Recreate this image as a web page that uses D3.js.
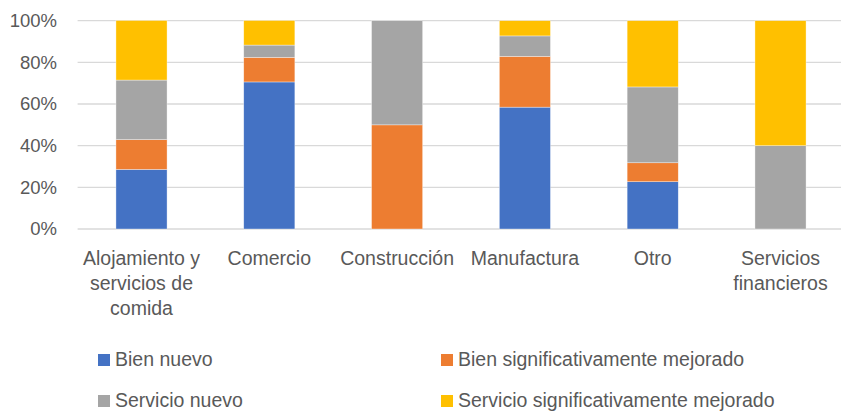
<!DOCTYPE html>
<html>
<head>
<meta charset="utf-8">
<script src="https://cdn.jsdelivr.net/npm/d3@7"></script>
<style>
  html, body { margin: 0; padding: 0; background: #fff; }
  svg { display: block; }
  text { font-family: "Liberation Sans", Arial, sans-serif; fill: #595959; }
</style>
</head>
<body>
<svg id="chart" width="841" height="411"></svg>
<script>
// ---- data ----
const categories = [
  "Alojamiento y servicios de comida",
  "Comercio",
  "Construcción",
  "Manufactura",
  "Otro",
  "Servicios financieros"
];
const categoryLines = [
  ["Alojamiento y", "servicios de", "comida"],
  ["Comercio"],
  ["Construcción"],
  ["Manufactura"],
  ["Otro"],
  ["Servicios", "financieros"]
];
const seriesNames = [
  "Bien nuevo",
  "Bien significativamente mejorado",
  "Servicio nuevo",
  "Servicio significativamente mejorado"
];
const bienNuevo          = [0.286, 0.706, 0.000, 0.585, 0.227, 0.000];
const bienMejorado       = [0.143, 0.118, 0.500, 0.244, 0.091, 0.000];
const servicioNuevo      = [0.286, 0.059, 0.500, 0.098, 0.364, 0.400];
const servicioMejorado   = [0.286, 0.118, 0.000, 0.073, 0.318, 0.600];
const yTicks = [0, 0.2, 0.4, 0.6, 0.8, 1.0];
const colors = ["#4472C4", "#ED7D31", "#A5A5A5", "#FFC000"];

// ---- build ----
const seriesValues = [bienNuevo, bienMejorado, servicioNuevo, servicioMejorado];
const rows = categories.map((c, i) => {
  const r = { category: c };
  seriesNames.forEach((s, k) => { r[s] = seriesValues[k][i]; });
  return r;
});

const svg = d3.select("#chart");
svg.append("rect").attr("width", 841).attr("height", 411).attr("fill", "#fff");

const x = d3.scaleBand()
  .domain(categories)
  .range([77.6, 844.4])
  .paddingInner(0.6)
  .paddingOuter(0.3);

const y = d3.scaleLinear().domain([0, 1]).range([229, 20.7]);

const color = d3.scaleOrdinal().domain(seriesNames).range(colors);

// gridlines
svg.append("g")
  .selectAll("line")
  .data(yTicks)
  .join("line")
  .attr("x1", 77.6)
  .attr("x2", 841)
  .attr("y1", d => y(d))
  .attr("y2", d => y(d))
  .attr("stroke", "#d9d9d9")
  .attr("stroke-width", 1.3);

// y axis labels
const yAxis = d3.axisLeft(y)
  .tickValues(yTicks)
  .tickFormat(d3.format(".0%"))
  .tickSize(0)
  .tickPadding(0);
const yg = svg.append("g").attr("transform", "translate(57,0)").call(yAxis);
yg.select(".domain").remove();
yg.selectAll("text")
  .style("font-family", '"Liberation Sans", Arial, sans-serif')
  .style("font-size", "18.5px")
  .attr("fill", "#595959");

// stacked bars
const stack = d3.stack().keys(seriesNames);
const stacked = stack(rows);

svg.append("g")
  .selectAll("g")
  .data(stacked)
  .join("g")
  .attr("fill", d => color(d.key))
  .selectAll("rect")
  .data(d => d.filter(s => s[1] - s[0] > 0))
  .join("rect")
  .attr("x", d => x(d.data.category))
  .attr("width", x.bandwidth())
  .attr("y", d => y(d[1]))
  .attr("height", d => y(d[0]) - y(d[1]))
  .attr("stroke", "#ffffff")
  .attr("stroke-width", 0.6)
  .attr("stroke-opacity", 0.6);

// category labels
const lab = svg.append("g")
  .selectAll("text")
  .data(categories)
  .join("text")
  .attr("text-anchor", "middle")
  .style("font-size", "19.5px")
  .attr("x", d => x(d) + x.bandwidth() / 2)
  .attr("y", 265);
lab.each(function(d, i) {
  const t = d3.select(this);
  categoryLines[i].forEach((line, j) => {
    t.append("tspan")
      .attr("x", x(d) + x.bandwidth() / 2)
      .attr("y", 265 + j * 25)
      .text(line);
  });
});

// legend
const legendPos = [
  { sx: 98, tx: 115, base: 366 },
  { sx: 441, tx: 458, base: 366 },
  { sx: 98, tx: 115, base: 407 },
  { sx: 441, tx: 458, base: 407 }
];
const lg = svg.append("g")
  .selectAll("g")
  .data(seriesNames)
  .join("g");
lg.append("rect")
  .attr("x", (d, i) => legendPos[i].sx)
  .attr("y", (d, i) => legendPos[i].base - 12)
  .attr("width", 12)
  .attr("height", 12)
  .attr("fill", d => color(d));
lg.append("text")
  .attr("x", (d, i) => legendPos[i].tx)
  .attr("y", (d, i) => legendPos[i].base)
  .style("font-size", "19.5px")
  .text(d => d);
</script>
</body>
</html>
